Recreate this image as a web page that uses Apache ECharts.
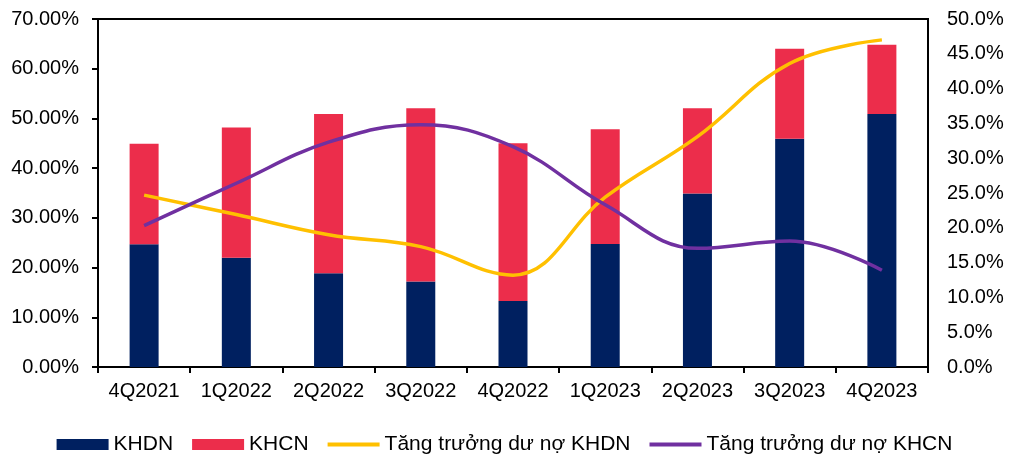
<!DOCTYPE html>
<html>
<head>
<meta charset="utf-8">
<script src="https://cdn.jsdelivr.net/npm/echarts@6/dist/echarts.min.js"></script>
<style>
html,body{margin:0;padding:0;background:#fff;}
#chart{width:1009px;height:455px;}
</style>
</head>
<body>
<div id="chart"></div>
<script>
const categories = ['4Q2021','1Q2022','2Q2022','3Q2022','4Q2022','1Q2023','2Q2023','3Q2023','4Q2023'];
const khdn = [24.7, 22.0, 18.85, 17.2, 13.3, 24.75, 34.9, 45.9, 50.9];
const khcn = [20.2, 26.2, 32.05, 34.85, 31.7, 23.05, 17.15, 18.1, 13.9];
const growthKhdn = [24.7, 21.9, 19.0, 17.3, 13.2, 24.4, 33.1, 43.6, 47.0];
const growthKhcn = [20.3, 26.4, 32.3, 34.8, 31.65, 23.3, 17.05, 18.1, 13.9];
const seriesNames = ['KHDN', 'KHCN', 'Tăng trưởng dư nợ KHDN', 'Tăng trưởng dư nợ KHCN'];

const FONT = '"Liberation Sans", Arial, sans-serif';
const LINE_ICON = 'path://M0,0 M0,3.5 L52,3.5 L52,7.5 L0,7.5 Z M52,11';
const chart = echarts.init(document.getElementById('chart'), null, {renderer: 'canvas'});
chart.setOption({
  animation: false,
  textStyle: {fontFamily: FONT},
  grid: {left: 98, right: 81, top: 19, bottom: 88, show: true, borderColor: '#000', borderWidth: 2, containLabel: false},
  legend: {
    top: 429,
    left: 'center',
    itemGap: 19,
    itemWidth: 52,
    itemHeight: 11,
    textStyle: {fontSize: 21, color: '#000', fontFamily: FONT},
    data: [
      {name: seriesNames[0], icon: 'rect'},
      {name: seriesNames[1], icon: 'rect'},
      {name: seriesNames[2], icon: LINE_ICON},
      {name: seriesNames[3], icon: LINE_ICON}
    ]
  },
  xAxis: {
    type: 'category',
    data: categories,
    boundaryGap: true,
    axisLine: {lineStyle: {color: '#000', width: 2}},
    axisTick: {show: true, length: 6, lineStyle: {color: '#000', width: 2}},
    axisLabel: {fontSize: 20, color: '#000', margin: 14, fontFamily: FONT, interval: 0}
  },
  yAxis: [
    {
      type: 'value', min: 0, max: 70, interval: 10,
      axisLine: {show: true, lineStyle: {color: '#000', width: 2}},
      axisTick: {show: true, length: 6, lineStyle: {color: '#000', width: 2}},
      splitLine: {show: false},
      axisLabel: {fontSize: 20, color: '#000', margin: 19, fontFamily: FONT, formatter: v => v.toFixed(2) + '%'}
    },
    {
      type: 'value', min: 0, max: 50, interval: 5, position: 'right',
      axisLine: {show: true, lineStyle: {color: '#000', width: 2}},
      axisTick: {show: false},
      splitLine: {show: false},
      axisLabel: {fontSize: 20, color: '#000', margin: 19, fontFamily: FONT, formatter: v => v.toFixed(1) + '%'}
    }
  ],
  series: [
    {name: seriesNames[0], type: 'bar', stack: 'a', data: khdn, barWidth: 29, itemStyle: {color: '#002060'}},
    {name: seriesNames[1], type: 'bar', stack: 'a', data: khcn, barWidth: 29, itemStyle: {color: '#EC2D4B'}},
    {name: seriesNames[2], type: 'line', yAxisIndex: 1, data: growthKhdn, smooth: 0.4, symbol: 'none',
      lineStyle: {color: '#FFC000', width: 3.5}, itemStyle: {color: '#FFC000'}},
    {name: seriesNames[3], type: 'line', yAxisIndex: 1, data: growthKhcn, smooth: 0.4, symbol: 'none',
      lineStyle: {color: '#7030A0', width: 3.5}, itemStyle: {color: '#7030A0'}}
  ]
});
</script>
</body>
</html>
